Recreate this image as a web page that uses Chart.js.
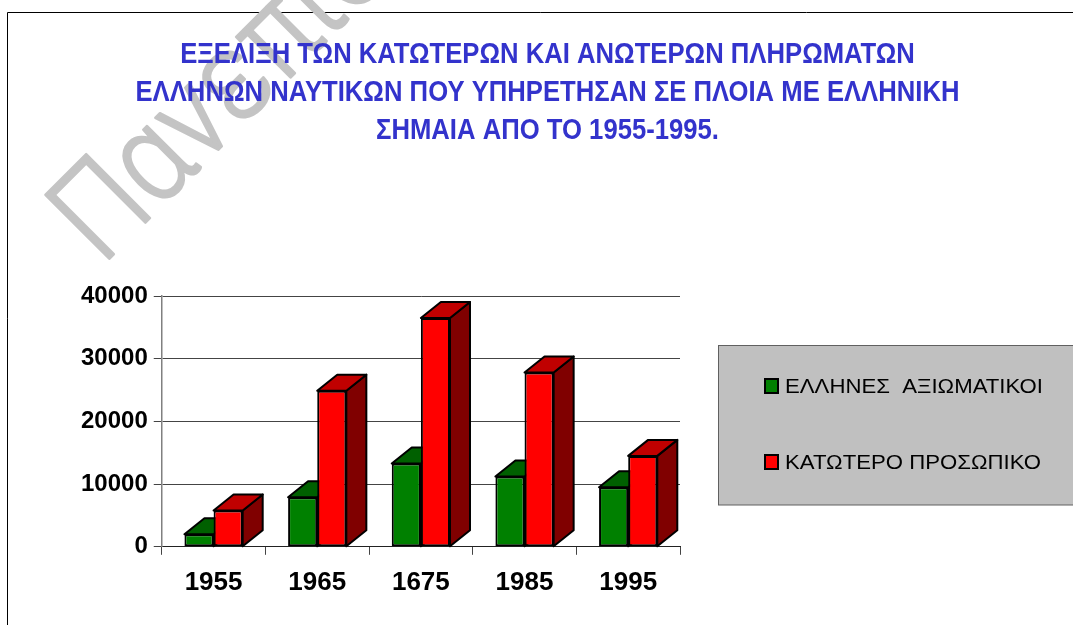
<!DOCTYPE html>
<html>
<head>
<meta charset="utf-8">
<script src="https://cdn.jsdelivr.net/npm/chart.js@4"></script>
<style>
  html, body { margin: 0; padding: 0; background: #fff; }
  #c { display: block; }
</style>
</head>
<body>
<canvas id="c" width="1073" height="625"></canvas>
<script>
// ---- data ----
const categories = ['1955', '1965', '1675', '1985', '1995'];
const officers = [2000, 7900, 13300, 11200, 9500];      // ΕΛΛΗΝΕΣ  ΑΞΙΩΜΑΤΙΚΟΙ
const crew = [5800, 24900, 36500, 27800, 14500];        // ΚΑΤΩΤΕΡΟ ΠΡΟΣΩΠΙΚΟ
const seriesNames = ['ΕΛΛΗΝΕΣ  ΑΞΙΩΜΑΤΙΚΟΙ', 'ΚΑΤΩΤΕΡΟ ΠΡΟΣΩΠΙΚΟ'];
const yTicks = [0, 10000, 20000, 30000, 40000];
const titleLines = [
  'ΕΞΕΛΙΞΗ ΤΩΝ ΚΑΤΩΤΕΡΩΝ ΚΑΙ ΑΝΩΤΕΡΩΝ ΠΛΗΡΩΜΑΤΩΝ',
  'ΕΛΛΗΝΩΝ ΝΑΥΤΙΚΩΝ ΠΟΥ ΥΠΗΡΕΤΗΣΑΝ ΣΕ ΠΛΟΙΑ ΜΕ ΕΛΛΗΝΙΚΗ',
  'ΣΗΜΑΙΑ ΑΠΟ ΤΟ 1955-1995.'
];
const watermarkText = 'Πανεπιστήμιο';

const FONT = '"Liberation Sans", Arial, sans-serif';
const frontColors = ['#008000', '#FF0000'];
const topColors = ['#006000', '#C00000'];
const sideColors = ['#004000', '#800000'];
const DEPTH_X = 20, DEPTH_Y = 16;

const backdrop = {
  id: 'backdrop',
  beforeDraw(chart) {
    const ctx = chart.ctx;
    ctx.save();
    ctx.fillStyle = '#fff';
    ctx.fillRect(0, 0, chart.width, chart.height);
    // frame
    ctx.strokeStyle = '#000';
    ctx.lineWidth = 1;
    ctx.beginPath();
    ctx.moveTo(7.5, chart.height);
    ctx.lineTo(7.5, 12.5);
    ctx.lineTo(chart.width, 12.5);
    ctx.stroke();
    // watermark
    ctx.save();
    ctx.translate(102, 266);
    ctx.rotate(-Math.PI / 4);
    ctx.scale(0.87, 1);
    ctx.fillStyle = '#c4c4c4';
    ctx.strokeStyle = '#c4c4c4';
    ctx.lineWidth = 2.5;
    ctx.lineJoin = 'round';
    ctx.font = '300 127px Roboto, Inter, "Noto Sans", ' + FONT;
    ctx.textBaseline = 'alphabetic';
    ctx.textAlign = 'left';
    ctx.fillText(watermarkText, 0, 0);
    ctx.strokeText(watermarkText, 0, 0);
    ctx.restore();
    // title
    ctx.fillStyle = '#3333CC';
    ctx.font = 'bold 29px ' + FONT;
    ctx.textBaseline = 'alphabetic';
    ctx.textAlign = 'center';
    const targetW = 824;
    const s = targetW / ctx.measureText(titleLines[1]).width;
    const baselines = [62.7, 101, 139.3];
    titleLines.forEach((t, i) => {
      ctx.save();
      ctx.translate(547.5, baselines[i]);
      ctx.scale(s, 1);
      ctx.fillText(t, 0, 0);
      ctx.restore();
    });
    ctx.restore();
  }
};

const bars3d = {
  id: 'bars3d',
  beforeDatasetsDraw(chart) {
    const ctx = chart.ctx;
    ctx.save();
    ctx.lineWidth = 2;
    ctx.strokeStyle = '#000';
    ctx.lineJoin = 'round';
    for (let d = chart.data.datasets.length - 1; d >= 0; d--) {
      const meta = chart.getDatasetMeta(d);
      meta.data.forEach(el => {
        const p = el.getProps(['x', 'y', 'base', 'width'], true);
        const l = p.x - p.width / 2, r = p.x + p.width / 2;
        // side face
        ctx.beginPath();
        ctx.moveTo(r, p.y);
        ctx.lineTo(r + DEPTH_X, p.y - DEPTH_Y);
        ctx.lineTo(r + DEPTH_X, p.base - DEPTH_Y);
        ctx.lineTo(r, p.base);
        ctx.closePath();
        ctx.fillStyle = sideColors[d];
        ctx.fill();
        ctx.stroke();
        // top face
        ctx.beginPath();
        ctx.moveTo(l, p.y);
        ctx.lineTo(l + DEPTH_X, p.y - DEPTH_Y);
        ctx.lineTo(r + DEPTH_X, p.y - DEPTH_Y);
        ctx.lineTo(r, p.y);
        ctx.closePath();
        ctx.fillStyle = topColors[d];
        ctx.fill();
        ctx.stroke();
      });
    }
    ctx.restore();
  }
};

const legendBox = {
  id: 'legendBox',
  afterDraw(chart) {
    const ctx = chart.ctx;
    ctx.save();
    ctx.fillStyle = '#C0C0C0';
    ctx.fillRect(718.5, 345.5, 400, 159.5);
    ctx.strokeStyle = '#606060';
    ctx.lineWidth = 1;
    ctx.strokeRect(718.5, 345.5, 400, 159.5);
    const ys = [386, 462];
    ctx.font = '20px ' + FONT;
    const sx = 258 / ctx.measureText(chart.data.datasets[0].label).width;
    chart.data.datasets.forEach((ds, i) => {
      ctx.fillStyle = ds.backgroundColor;
      ctx.fillRect(765, ys[i] - 7, 13, 14);
      ctx.strokeStyle = '#000';
      ctx.lineWidth = 2;
      ctx.strokeRect(765, ys[i] - 7, 13, 14);
      ctx.fillStyle = '#000';
      ctx.textBaseline = 'middle';
      ctx.textAlign = 'left';
      ctx.save();
      ctx.translate(785, ys[i] + 1);
      ctx.scale(sx, 1);
      ctx.fillText(ds.label, 0, 0);
      ctx.restore();
    });
    ctx.restore();
  }
};

new Chart(document.getElementById('c'), {
  type: 'bar',
  data: {
    labels: categories,
    datasets: [
      { label: seriesNames[0], data: officers, backgroundColor: frontColors[0] },
      { label: seriesNames[1], data: crew, backgroundColor: frontColors[1] }
    ]
  },
  options: {
    responsive: false,
    animation: false,
    devicePixelRatio: 1,
    layout: { padding: { left: 75, right: 393, top: 296, bottom: 15 } },
    datasets: {
      bar: {
        categoryPercentage: 0.562,
        barPercentage: 1.0,
        borderWidth: 2,
        borderColor: '#000',
        borderSkipped: false
      }
    },
    plugins: {
      legend: { display: false },
      title: { display: false },
      tooltip: { enabled: false }
    },
    scales: {
      x: {
        offset: true,
        grid: { display: true, drawOnChartArea: false, drawTicks: true, tickLength: 8, color: '#444', offset: true },
        border: { display: true, color: '#222', width: 1 },
        ticks: { color: '#000', font: { family: FONT, size: 26, weight: 'bold' }, padding: 12 }
      },
      y: {
        min: yTicks[0],
        max: yTicks[yTicks.length - 1],
        afterBuildTicks(scale) { scale.ticks = yTicks.map(v => ({ value: v })); },
        grid: { color: '#444', lineWidth: 1, tickLength: 8, drawTicks: true },
        border: { display: true, color: '#808080', width: 1.5 },
        ticks: {
          color: '#000',
          font: { family: FONT, size: 24, weight: 'bold' },
          padding: 6,
          callback: v => String(v)
        }
      }
    }
  },
  plugins: [backdrop, bars3d, legendBox]
});
</script>
</body>
</html>
